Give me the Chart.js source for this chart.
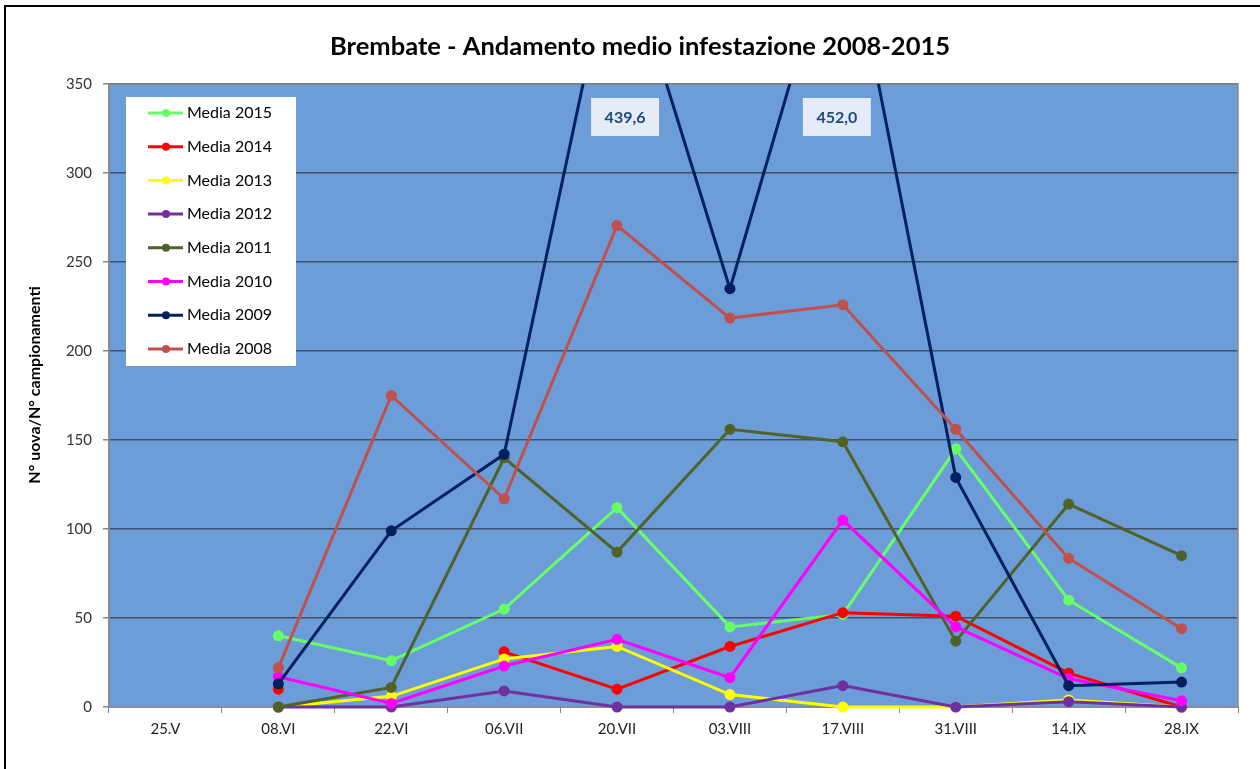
<!DOCTYPE html>
<html>
<head>
<meta charset="utf-8">
<title>Brembate - Andamento medio infestazione 2008-2015</title>
<script src="https://cdn.jsdelivr.net/npm/chart.js@4/dist/chart.umd.min.js"></script>
<style>
  html, body { margin: 0; padding: 0; background: #fff; }
  #wrap { width: 1260px; height: 769px; position: relative; }
</style>
</head>
<body>
<div id="wrap"><canvas id="infChart"></canvas></div>
<script>
// categories (sampling dates)
const dates = ["25.V", "08.VI", "22.VI", "06.VII", "20.VII", "03.VIII", "17.VIII", "31.VIII", "14.IX", "28.IX"];

// yearly averages (eggs / samplings)
const media2015 = [null, 40, 26, 55, 112, 45, 52, 145, 60, 22];
const media2014 = [null, 10, null, 31, 10, 34, 53, 51, 19, 0];
const media2013 = [null, 0, 6, 27, 34, 7, 0, 0, 4, 0];
const media2012 = [null, 0, 0, 9, 0, 0, 12, 0, 3, 0];
const media2011 = [null, 0, 11, 140, 87, 156, 149, 37, 114, 85];
const media2010 = [null, 17, 2, 23, 38, 16.5, 105, 45, 16, 3.5];
const media2009 = [null, 13, 99, 142, 439.6, 235, 452.0, 129, 12, 14];
const media2008 = [null, 22, 175, 117, 270.5, 218.5, 226, 156, 83.5, 44];

const yTicks = [0, 50, 100, 150, 200, 250, 300, 350];

const FONT = "Lato, 'Open Sans', sans-serif";

// later years in the list are drawn on top (like the original sheet)
function serie(label, data, color, layer) {
    return {
        label: label,
        data: data,
        borderColor: color,
        backgroundColor: color,
        pointBackgroundColor: color,
        pointBorderColor: color,
        borderWidth: 3,
        pointRadius: 4,
        pointHoverRadius: 4,
        tension: 0,
        order: layer,
        clip: { left: 10, top: 0, right: 10, bottom: 10 }
    };
}

/* ============================
   DRAWING HELPERS (plugins)
============================ */
const decorPlugin = {
    id: "decor",
    beforeDraw(chart) {
        const ctx = chart.ctx;
        const a = chart.chartArea;
        ctx.save();
        // outer frame
        ctx.strokeStyle = "#000";
        ctx.lineWidth = 2;
        ctx.beginPath();
        ctx.moveTo(5, 800);
        ctx.lineTo(5, 6);
        ctx.lineTo(1270, 6);
        ctx.stroke();
        // plot background
        ctx.fillStyle = "#6C9DD8";
        ctx.fillRect(a.left, a.top, a.right - a.left, a.bottom - a.top);
        ctx.restore();
    },
    beforeDatasetsDraw(chart) {
        const ctx = chart.ctx;
        const a = chart.chartArea;
        ctx.save();
        ctx.strokeStyle = "#8C8C8C";
        ctx.lineWidth = 1.5;
        ctx.strokeRect(a.left, a.top, a.right - a.left, a.bottom - a.top);
        ctx.restore();
    },
    afterDraw(chart) {
        const ctx = chart.ctx;
        const a = chart.chartArea;
        ctx.save();

        // title
        ctx.fillStyle = "#000";
        ctx.font = "bold 25.5px " + FONT;
        ctx.textAlign = "center";
        ctx.textBaseline = "middle";
        ctx.fillText("Brembate - Andamento medio infestazione 2008-2015", 640, 47);

        // y axis title
        ctx.save();
        ctx.translate(35, 385);
        ctx.rotate(-Math.PI / 2);
        ctx.font = "bold 16px " + FONT;
        ctx.fillText("N° uova/N° campionamenti", 0, 0);
        ctx.restore();

        // labels for the values that go off the scale
        const yScale = chart.scales.y;
        const xScale = chart.scales.x;
        const shift = [8, -6];
        let k = 0;
        chart.data.datasets.forEach(ds => {
            ds.data.forEach((v, i) => {
                if (v !== null && v > yScale.max) {
                    const cx = xScale.getPixelForValue(i) + (shift[k] || 0);
                    k++;
                    ctx.fillStyle = "#E5ECF7";
                    ctx.fillRect(cx - 34, a.top + 14, 68, 38);
                    ctx.fillStyle = "#1F497D";
                    ctx.font = "bold 16px " + FONT;
                    ctx.textAlign = "center";
                    ctx.textBaseline = "middle";
                    ctx.fillText(v.toFixed(1).replace(".", ","), cx, a.top + 34);
                }
            });
        });

        // legend box inside the plot
        const lx = 126, ly = 97;
        ctx.fillStyle = "#fff";
        ctx.fillRect(lx, ly, 170, 269);
        chart.data.datasets.forEach((ds, i) => {
            const y = ly + 16 + i * 33.7;
            ctx.strokeStyle = ds.borderColor;
            ctx.lineWidth = 3;
            ctx.beginPath();
            ctx.moveTo(lx + 22, y);
            ctx.lineTo(lx + 57, y);
            ctx.stroke();
            ctx.fillStyle = ds.borderColor;
            ctx.beginPath();
            ctx.arc(lx + 40, y, 4, 0, Math.PI * 2);
            ctx.fill();
            ctx.fillStyle = "#000";
            ctx.font = "16px " + FONT;
            ctx.textAlign = "left";
            ctx.textBaseline = "middle";
            ctx.fillText(ds.label, lx + 61, y);
        });

        ctx.restore();
    }
};

/* ============================
   CHART SETUP
============================ */
let ctx = document.getElementById("infChart").getContext("2d");

let infChart = new Chart(ctx, {
    type: "line",
    data: {
        labels: dates,
        datasets: [
            serie("Media 2015", media2015, "#66FF66", 8),
            serie("Media 2014", media2014, "#FF0000", 7),
            serie("Media 2013", media2013, "#FFFF00", 6),
            serie("Media 2012", media2012, "#7030A0", 5),
            serie("Media 2011", media2011, "#4F6228", 4),
            serie("Media 2010", media2010, "#FF00FF", 3),
            serie("Media 2009", media2009, "#002060", 2),
            serie("Media 2008", media2008, "#C0504D", 1)
        ]
    },
    options: {
        responsive: true,
        maintainAspectRatio: false,
        animation: false,
        events: [],
        layout: { padding: { left: 0, top: 84, right: 22, bottom: 0 } },
        plugins: {
            legend: { display: false },
            title: { display: false },
            tooltip: { enabled: false }
        },
        scales: {
            x: {
                offset: true,
                grid: {
                    offset: true,
                    drawOnChartArea: false,
                    tickLength: 6,
                    color: "#868686",
                    tickColor: "#868686"
                },
                border: { color: "#868686", width: 1.5 },
                ticks: {
                    padding: 7,
                    color: "#222",
                    font: { family: FONT, size: 15 },
                    maxRotation: 0,
                    autoSkip: false
                },
                afterFit(scale) { scale.height = 62; }
            },
            y: {
                min: 0,
                max: 350,
                afterBuildTicks(scale) {
                    scale.ticks = yTicks.map(v => ({ value: v }));
                },
                grid: {
                    color: "#3E506B",
                    tickColor: "#868686",
                    tickLength: 6,
                    lineWidth: 1.5
                },
                border: { color: "#868686", width: 1.5 },
                ticks: {
                    padding: 11,
                    color: "#333",
                    font: { family: FONT, size: 15 }
                },
                afterFit(scale) { scale.width = 109; }
            }
        }
    },
    plugins: [decorPlugin]
});
</script>
</body>
</html>
